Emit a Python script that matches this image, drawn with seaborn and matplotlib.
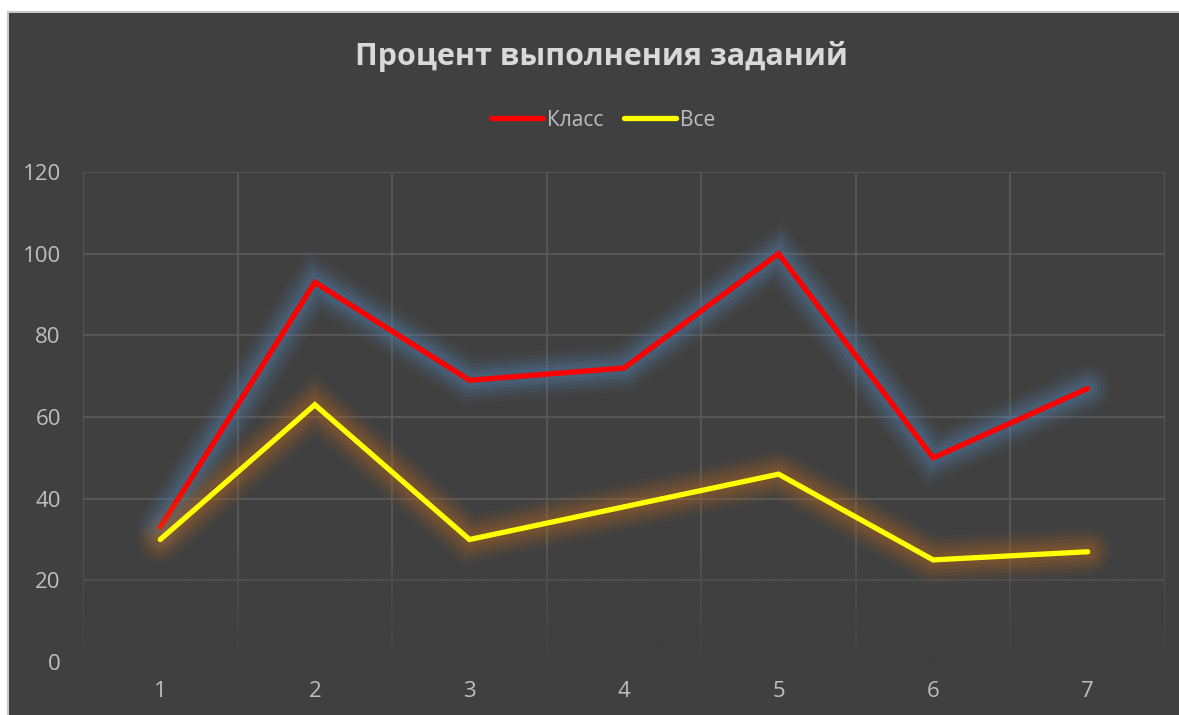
import matplotlib
matplotlib.use("Agg")
import matplotlib.pyplot as plt
import matplotlib.patheffects as pe
from matplotlib.patches import Rectangle
from matplotlib.lines import Line2D
from matplotlib.colors import to_rgb
import numpy as np
import seaborn as sns
import pandas as pd

tasks = [1, 2, 3, 4, 5, 6, 7]
klass = [33, 93, 69, 72, 100, 50, 67]
vse = [30, 63, 30, 38, 46, 25, 27]
series_names = ["Класс", "Все"]
title = "Процент выполнения заданий"
yticks = [0, 20, 40, 60, 80, 100, 120]

df = pd.DataFrame({
    "task": tasks * 2,
    "value": klass + vse,
    "series": [series_names[0]] * len(tasks) + [series_names[1]] * len(tasks),
})

sns.set_theme(style="dark")
plt.rcParams["font.family"] = ["Open Sans", "DejaVu Sans"]

BG = "#404040"
W, H = 1179, 715
fig = plt.figure(figsize=(W / 100, H / 100), dpi=100, facecolor="white")
fig.patches.append(Rectangle((8 / W, -0.01), 1.02 - 8 / W, 1.01 - 12 / H, transform=fig.transFigure,
                             facecolor=BG, edgecolor="#c8c8c8", linewidth=1.5, zorder=-10))

ax = fig.add_axes([83 / W, (H - 662) / H, (1165 - 83) / W, (662 - 172) / H])
ax.set_facecolor(BG)

palette = {series_names[0]: "#ff0000", series_names[1]: "#ffff00"}
glow = {series_names[0]: "#5585b5", series_names[1]: "#b86a22"}

sns.lineplot(data=df, x="task", y="value", hue="series", palette=palette,
             linewidth=3.8, ax=ax, legend=False, sort=False, zorder=3)

for line, name in zip(ax.get_lines(), series_names):
    c = glow[name]
    effects = []
    for w, a in [(34, 0.05), (29, 0.07), (24, 0.09), (19, 0.11), (14, 0.13), (9, 0.14)]:
        effects.append(pe.Stroke(linewidth=w, foreground=c, alpha=a))
    effects.append(pe.Normal())
    line.set_path_effects(effects)
    line.set_solid_capstyle("round")
    line.set_solid_joinstyle("miter")

ax.set_xlim(0.5, 7.5)
ax.set_ylim(0, 120)
ax.set_yticks(yticks)
ax.set_xticks(tasks)
ax.grid(False)
for y in yticks[1:]:
    ax.axhline(y, color="#595959", linewidth=1.3, zorder=0)
for x in [0.5 + i for i in range(8)]:
    ax.axvline(x, color="#595959", linewidth=1.3, zorder=0)

# soft fade of the grid near the bottom
n = 200
alpha = np.clip(1.0 - np.linspace(0, 1, n) * 1.05, 0, 1) ** 0.8
grad = np.zeros((n, 1, 4))
grad[:, 0, :3] = to_rgb(BG)
grad[:, 0, 3] = alpha
ax.imshow(grad, extent=(0.5, 7.5, 0, 30), origin="lower", aspect="auto", zorder=1,
          interpolation="bilinear")
ax.set_xlim(0.5, 7.5)
ax.set_ylim(0, 120)

for s in ax.spines.values():
    s.set_visible(False)
ax.tick_params(axis="both", length=0, colors="#bfbfbf", labelsize=16)
ax.tick_params(axis="y", pad=16)
ax.tick_params(axis="x", pad=14)
ax.set_xlabel("")
ax.set_ylabel("")

fig.text(601 / W, 1 - 56 / H, title, ha="center", va="center", fontsize=22,
         fontweight="bold", color="#d9d9d9")

handles = [Line2D([], [], color=palette[n], linewidth=3.8, solid_capstyle="round") for n in series_names]
leg = fig.legend(handles, series_names, loc="center", bbox_to_anchor=(603 / W, 1 - 120 / H),
                 ncol=2, frameon=False, fontsize=15, handlelength=2.5, handletextpad=0.2,
                 columnspacing=1.0)
for t in leg.get_texts():
    t.set_color("#bfbfbf")

fig.savefig("out.png", dpi=100, facecolor="white")
